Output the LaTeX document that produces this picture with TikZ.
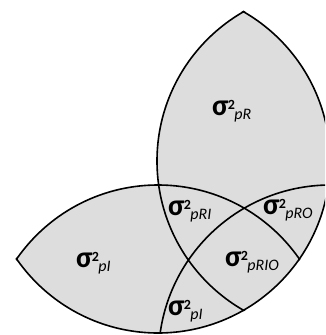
\documentclass[tikz,border=0pt]{standalone}
\usepackage{fontspec}
\setmainfont{Carlito}
\definecolor{lensfill}{RGB}{221,221,221}
% variance-component label: big sigma, superscript 2, italic subscript
\newcommand{\varlbl}[1]{{\fontsize{30}{30}\selectfont\bfseries σ}{\fontsize{14}{14}\selectfont\kern-0.5pt\raisebox{6pt}{\bfseries 2}}{\fontsize{16}{16}\selectfont\kern-0.5pt\raisebox{-4pt}{\itshape #1}}}
\tikzset{
  lbl/.style={anchor=base west, inner sep=0pt, outer sep=0pt},
  rim/.style={line width=1.6pt, black}
}
\begin{document}
\begin{tikzpicture}[x=1pt, y=-1pt]
\useasboundingbox (0,0) rectangle (325,335);
\clip (0,0) rectangle (325,335);
\def\rad{172}
% circle centres: the common circle and the three partners
\coordinate (cP) at (158,161);
\coordinate (cD) at (158,357);
\coordinate (cR) at (329,161);
\coordinate (cO) at (330.5,357);
% shaded union of the three lenses
\begin{scope}
  \clip (cP) circle[radius=\rad];
  \fill[lensfill] (cD) circle[radius=\rad] (cR) circle[radius=\rad] (cO) circle[radius=\rad];
\end{scope}
% partner arcs inside the common circle
\begin{scope}
  \clip (cP) circle[radius=\rad+1];
  \draw[rim] (cD) circle[radius=\rad] (cR) circle[radius=\rad] (cO) circle[radius=\rad];
\end{scope}
% common-circle arcs bounding the lenses
\begin{scope}
  \clip (cD) circle[radius=\rad+1] (cR) circle[radius=\rad+1] (cO) circle[radius=\rad+1];
  \draw[rim] (cP) circle[radius=\rad];
\end{scope}
% labels
\node[lbl] (sR)    at (212,115)   {\varlbl{pR}};
\node[lbl] (sI)    at (76,267.5)  {\varlbl{pI}};
\node[lbl] (sRI)   at (168,215)   {\varlbl{pRI}};
\node[lbl] (sRO)   at (263,214)   {\varlbl{pRO}};
\node[lbl] (sRIO)  at (225,266.5) {\varlbl{pRIO}};
\node[lbl] (sIb)   at (168,315)   {\varlbl{pI}};
\end{tikzpicture}
\end{document}
